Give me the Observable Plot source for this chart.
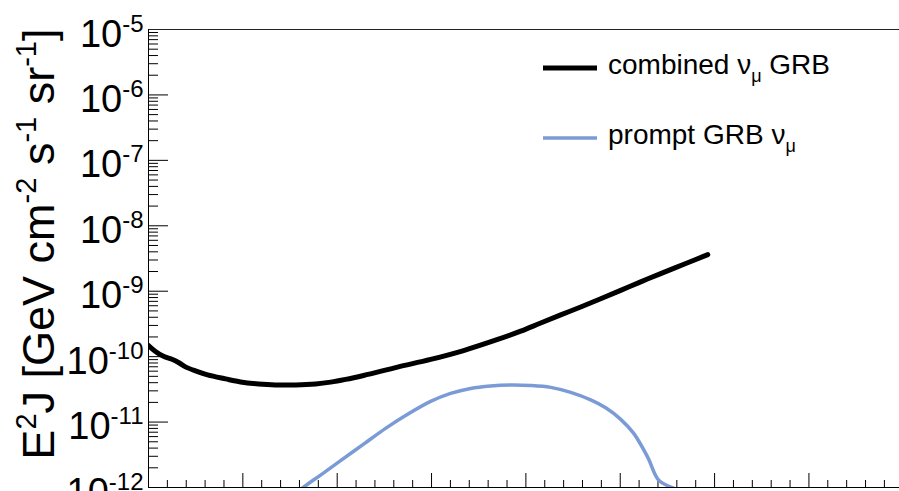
<!DOCTYPE html>
<html><head><meta charset="utf-8">
<script src="https://cdn.jsdelivr.net/npm/d3@7"></script>
<script src="https://cdn.jsdelivr.net/npm/@observablehq/plot@0.6"></script>
<style>
html,body{margin:0;padding:0;background:#fff;}
#chart{position:relative;width:899px;height:491px;overflow:hidden;}
</style></head><body><div id="chart"></div>
<script>
// ---- data ----
const combinedLogE = [2.00,2.074,2.159,2.255,2.318,2.392,2.498,2.626,2.817,2.976,3.166,3.347,3.559,3.771,3.930,4.089,4.280,4.640,4.990,5.340,5.701,5.945,6.157,6.369,6.581,6.793,7.005,7.217,7.429,7.695,7.928];
const combinedFlux = [1.48e-10,1.20e-10,1.01e-10,9.06e-11,8.15e-11,6.97e-11,6.05e-11,5.26e-11,4.57e-11,4.11e-11,3.83e-11,3.70e-11,3.70e-11,3.83e-11,4.08e-11,4.49e-11,5.16e-11,6.92e-11,9.06e-11,1.24e-10,1.83e-10,2.45e-10,3.27e-10,4.34e-10,5.74e-10,7.66e-10,1.03e-9,1.39e-9,1.86e-9,2.65e-9,3.63e-9];
const promptLogE = [3.506,3.644,3.824,4.036,4.280,4.513,4.725,4.990,5.202,5.414,5.626,5.838,6.050,6.263,6.475,6.687,6.846,7.005,7.143,7.292,7.408,7.557,7.695];
const promptFlux = [6.84e-13,1.01e-12,1.55e-12,2.57e-12,4.60e-12,8.02e-12,1.26e-11,2.07e-11,2.74e-11,3.27e-11,3.57e-11,3.70e-11,3.63e-11,3.39e-11,2.84e-11,2.18e-11,1.65e-11,1.10e-11,6.71e-12,2.89e-12,1.29e-12,9.9e-13,8.5e-13];

const seriesLabels = [["combined ν","μ"," GRB"],["prompt GRB ν","μ",""]];
const seriesColors = ["#000000","#7a9bd6"];
const seriesWidths = [5,3.5];

const xDomain = [2, 9.96];
const yDomain = [1e-12, 1e-5];
const yMajorTicks = [1e-12,1e-11,1e-10,1e-9,1e-8,1e-7,1e-6,1e-5];
const yMinorMultipliers = [2,3,4,5,6,7,8,9];
const xMajorTicks = [2,3,4,5,6,7,8,9];
const xMinorStep = 0.2;
const yTitleParts = ["E","^2","J [GeV cm","^-2"," s","^-1"," sr","^-1","]"];

// ---- derived tables ----
const combined = combinedLogE.map((x,i)=>({x, y: combinedFlux[i]}));
const prompt = promptLogE.map((x,i)=>({x, y: promptFlux[i]}));
const yMinorTicks = [];
yMajorTicks.slice(0,-1).forEach(b => yMinorMultipliers.forEach(m => yMinorTicks.push(b*m)));
const xMinorTicks = [];
for (let k = Math.ceil(xDomain[0]/xMinorStep); k*xMinorStep <= xDomain[1]; k++) {
  const v = +(k*xMinorStep).toFixed(3);
  if (Math.abs(v - Math.round(v)) > 1e-6) xMinorTicks.push(v);
}

const W = 899, H = 491, mL = 148, mT = 29, mB = 4, mR = 0;
const pW = W - mL - mR, pH = H - mT - mB;
const FONT = "'Liberation Sans', Arimo, Helvetica, Arial, sans-serif";

const plot = Plot.plot({
  width: W, height: H,
  marginLeft: mL, marginTop: mT, marginBottom: mB, marginRight: mR,
  style: {background: "white", fontFamily: FONT, color: "#000"},
  x: {type: "linear", domain: xDomain, axis: null},
  y: {type: "log", domain: yDomain, axis: null},
  marks: [
    Plot.ruleY(yMinorTicks, {y: d => d, stroke: "#000", strokeWidth: 1, insetRight: pW - 10}),
    Plot.ruleY(yMajorTicks, {y: d => d, stroke: "#000", strokeWidth: 1, insetRight: pW - 20}),
    Plot.ruleX(xMinorTicks, {x: d => d, stroke: "#000", strokeWidth: 1, insetTop: pH - 7}),
    Plot.ruleX(xMajorTicks, {x: d => d, stroke: "#000", strokeWidth: 1, insetTop: pH - 14}),
    Plot.line(prompt, {x: "x", y: "y", stroke: seriesColors[1], strokeWidth: seriesWidths[1], curve: "catmull-rom", clip: true}),
    Plot.line(combined, {x: "x", y: "y", stroke: seriesColors[0], strokeWidth: seriesWidths[0], curve: "catmull-rom", clip: true}),
    Plot.ruleY([yDomain[1]], {stroke: "#222", strokeWidth: 1}),
    Plot.ruleY([yDomain[0]], {stroke: "#000", strokeWidth: 1}),
    Plot.ruleX([xDomain[0]], {stroke: "#000", strokeWidth: 1}),
    Plot.text(yMajorTicks, {y: d => d, frameAnchor: "left", dx: -5, dy: 17, textAnchor: "end", lineAnchor: "bottom",
      text: d => String(Math.round(Math.log10(d))), fontSize: 38, fill: "#000"}),
    Plot.text([yTitleParts.join("")], {frameAnchor: "top-left", dx: -95, dy: -1, rotate: -90, textAnchor: "end",
      lineAnchor: "bottom", text: d => d, fontSize: 45, fill: "#000"})
  ]
});

// superscripts for tick labels and title
const textGroups = plot.querySelectorAll('g[aria-label="text"]');
d3.select(textGroups[0]).selectAll("text").each(function() {
  const exp = this.textContent;
  const t = d3.select(this);
  t.text("10");
  t.append("tspan").attr("dy", -15).attr("font-size", 24).text(exp);
});
d3.select(textGroups[1]).selectAll("text").each(function() {
  const t = d3.select(this);
  t.text("");
  let raised = false;
  yTitleParts.forEach(p => {
    const sup = p.startsWith("^");
    const s = t.append("tspan").text(sup ? p.slice(1) : p);
    if (sup) { s.attr("font-size", 29).attr("dy", -18); raised = true; }
    else if (raised) { s.attr("dy", 18); raised = false; }
  });
});

// legend
const lg = d3.select(plot).append("g").attr("font-family", FONT).attr("font-size", 28)
  .attr("fill", "#000").attr("text-anchor", "start");
seriesLabels.forEach((parts, i) => {
  const y0 = 68 + i * 70;
  lg.append("line").attr("x1", 543).attr("x2", 597).attr("y1", y0).attr("y2", y0)
    .attr("stroke", seriesColors[i]).attr("stroke-width", seriesWidths[i]);
  const t = lg.append("text").attr("x", 608).attr("y", y0 + 6).attr("text-anchor", "start");
  t.append("tspan").text(parts[0]);
  t.append("tspan").attr("font-size", 18).attr("dy", 8).text(parts[1]);
  if (parts[2]) t.append("tspan").attr("dy", -8).text(parts[2]);
});

document.getElementById("chart").appendChild(plot);
</script></body></html>
